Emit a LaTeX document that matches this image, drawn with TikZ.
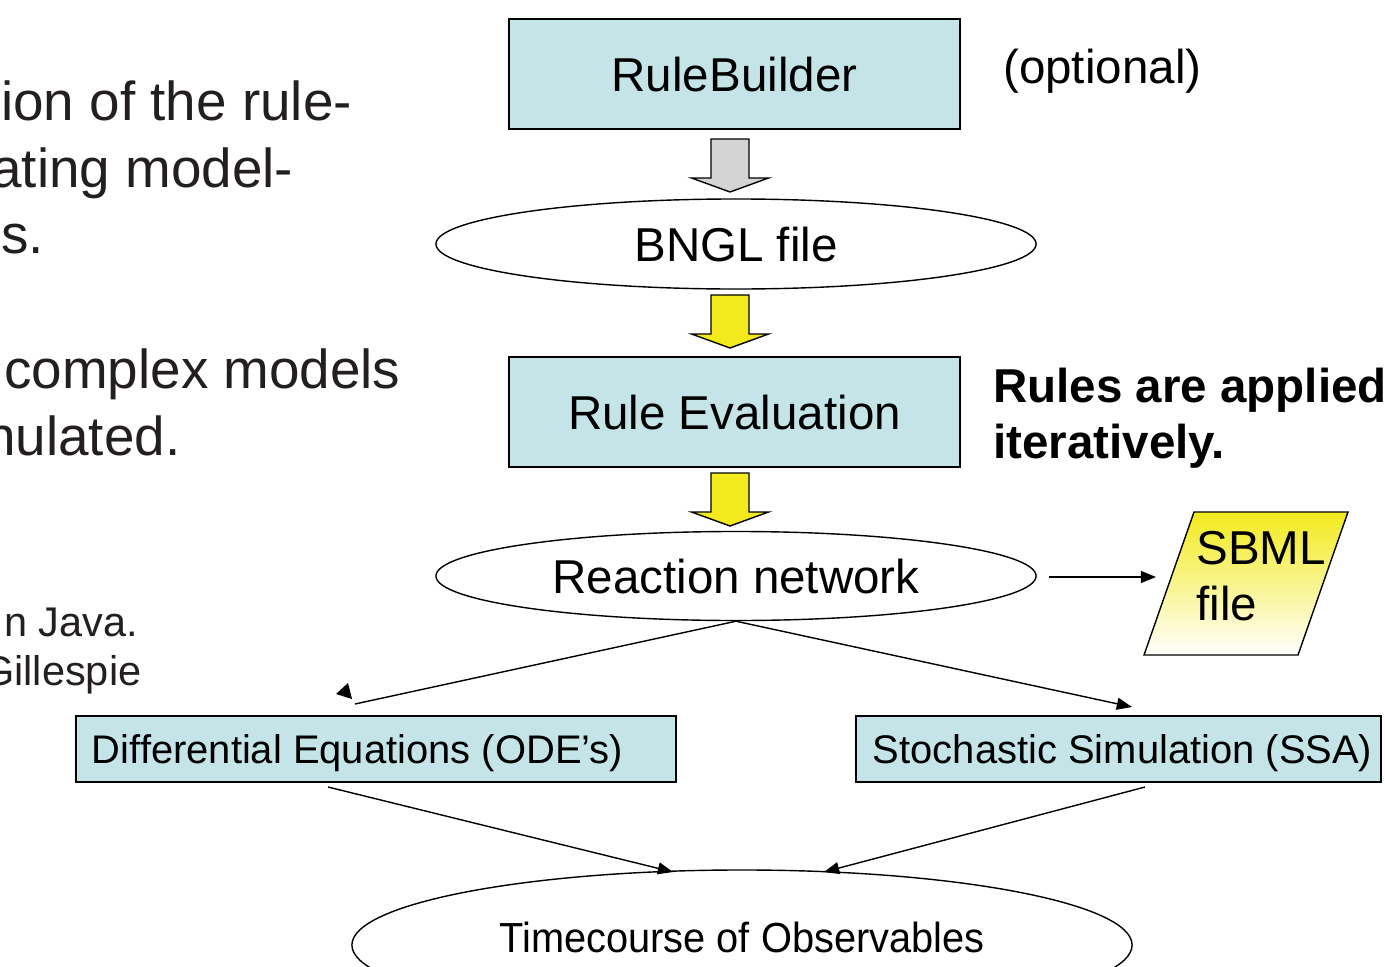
\documentclass[tikz,border=0pt]{standalone}
\usepackage{fontspec}
\setmainfont{Liberation Sans}
\usetikzlibrary{shapes.geometric,arrows.meta,calc}

\definecolor{boxblue}{RGB}{196,228,232}
\definecolor{flowyellow}{RGB}{242,234,28}
\definecolor{flowgrey}{RGB}{212,212,212}
\definecolor{slidetext}{RGB}{35,31,32}

\begin{document}
\begin{tikzpicture}[
  x=0.025cm, y=-0.025cm,
  big/.style={font=\fontsize{33.8pt}{40pt}\selectfont},
  mid/.style={font=\fontsize{28.4pt}{34pt}\selectfont},
  capbig/.style={text height=24.2pt, text depth=0pt},
  capmid/.style={text height=20.3pt, text depth=0pt},
  box/.style={rectangle, draw=black, line width=1.2pt, fill=boxblue, inner sep=0pt},
  oval/.style={ellipse, draw=black, line width=1pt, fill=white, inner sep=0pt},
  link/.style={line width=1pt},
  arr/.style={line width=1pt, -{Triangle[length=0.38cm,width=0.3cm]}},
  blockarrow/.pic={
    \path[pic actions] (-19,0) -- (19,0) -- (19,39) -- (38.5,39) -- (0,53)
      -- (-38.5,39) -- (-19,39) -- cycle;
  },
  slide/.style={anchor=base west, inner sep=0pt, text=slidetext,
    font=\fontsize{39pt}{47pt}\selectfont},
  slidesmall/.style={anchor=base west, inner sep=0pt, text=slidetext,
    font=\fontsize{29.5pt}{35pt}\selectfont},
  note/.style={anchor=base west, inner sep=0pt, big}
]
\useasboundingbox (0,0) rectangle (1385,966);
\clip (0,0) rectangle (1385,966);

% bullet text running in from the left margin
\node[slide] (s1) at (1,120) {ion of the rule-};
\node[slide] (s2) at (-9,187) {ating model-};
\node[slide] (s3) at (1,253) {s.};
\node[slide] (s4) at (4,388) {complex models};
\node[slide] (s5) at (-15,455) {nulated.};
\node[slidesmall] (s6) at (4,636) {n Java.};
\node[slidesmall] (s7) at (-18,685) {Gillespie};

% main pipeline
\node[box, big, capbig, minimum width=11.275cm, minimum height=2.75cm]
  (rb) at (734.5,74) {RuleBuilder};
\pic[draw=black, line width=1pt, fill=flowgrey] at (730,139) {blockarrow};
\node[oval, big, capbig, minimum width=15cm, minimum height=2.25cm]
  (bngl) at (736,244) {BNGL file};
\pic[draw=black, line width=1pt, fill=flowyellow] at (730,295) {blockarrow};
\node[box, big, capbig, minimum width=11.275cm, minimum height=2.75cm]
  (re) at (734.5,412) {Rule Evaluation};
\pic[draw=black, line width=1pt, fill=flowyellow] at (730,473) {blockarrow};
\node[oval, big, capbig, minimum width=15cm, minimum height=2.225cm]
  (rn) at (736,576) {Reaction network};

% side notes
\node[note] (opt) at (1003,84) {(optional)};
\node[note, font=\fontsize{33.8pt}{40pt}\selectfont\bfseries] (it1) at (993,402) {Rules are applied};
\node[note, font=\fontsize{33.8pt}{40pt}\selectfont\bfseries] (it2) at (993,458) {iteratively.};

% SBML export
\shade[top color=flowyellow, middle color=flowyellow!22, bottom color=white,
  draw=black, line width=1pt]
  (1194,512) -- (1348,512) -- (1298,655) -- (1144,655) -- cycle;
\node[note] (sbml1) at (1196,564) {SBML};
\node[note] (sbml2) at (1196,620) {file};
\coordinate (sbmlin) at (1156,577);
\draw[arr, shorten <=0.3cm] (rn.east |- sbmlin) -- (sbmlin);

% solvers
\node[box, mid, capmid, minimum width=15cm, minimum height=1.65cm, inner xsep=0.4cm]
  (de) at (376,749) {\makebox[14.2cm][l]{Differential Equations (ODE’s)}};
\node[box, mid, capmid, minimum width=13.125cm, minimum height=1.65cm, inner xsep=0.425cm]
  (ssa) at (1118.5,749) {\makebox[12.275cm][l]{Stochastic Simulation (SSA)}};

\coordinate (deend) at (355,704);
\coordinate (ssain) at (1132,707);
\draw[link] (rn.south) -- (deend);
\fill (336,694) -- (348,683) -- (352,699) -- cycle;
\draw[arr] (rn.south) -- (ssain);

% observables
\node[oval, minimum width=19.5cm, minimum height=3.75cm] (tc) at (742,945) {};
\node[inner sep=0pt, text height=21.5pt, text depth=0pt,
  font=\fontsize{29.9pt}{36pt}\selectfont] (tclabel) at (742,937)
  {\scalebox{0.946}[1]{Timecourse of Observables}};

\coordinate (deout) at (328,787);
\coordinate (ssaout) at (1145,787);
\coordinate (tcinl) at (673,872);
\coordinate (tcinr) at (824,872);
\draw[arr] (deout) -- (tcinl);
\draw[arr] (ssaout) -- (tcinr);
\end{tikzpicture}
\end{document}
